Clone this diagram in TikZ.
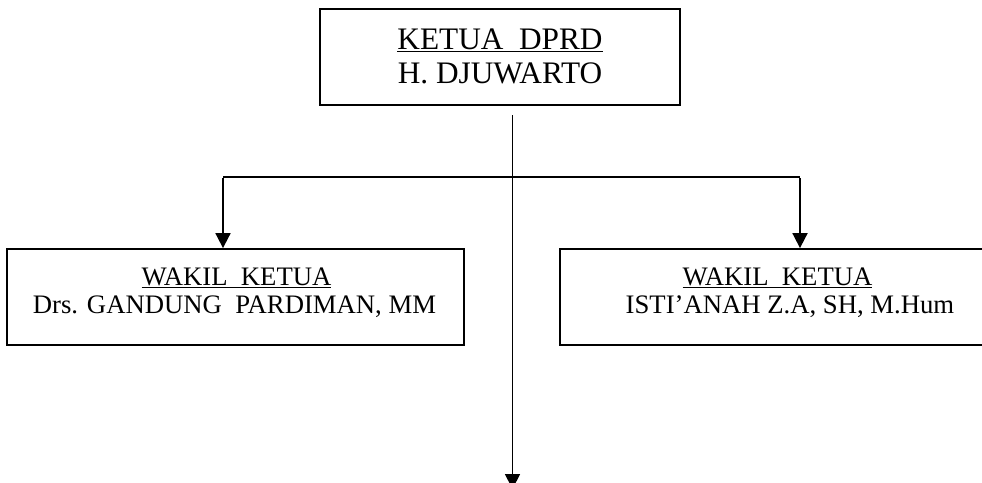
\documentclass[tikz,border=0pt]{standalone}
\usepackage{fontspec}
\setmainfont{Liberation Serif}
\usetikzlibrary{arrows.meta}
\begin{document}
\begin{tikzpicture}[x=1pt,y=-1pt,
  box/.style={draw,line width=1.8pt,rectangle,inner sep=0pt},
  bigtxt/.style={anchor=base,inner sep=0pt,font=\fontsize{31.3}{33}\selectfont},
  smalltxt/.style={anchor=base,inner sep=0pt,font=\fontsize{26.7}{29}\selectfont},
  conn/.style={line width=1.8pt},
  arr/.style={conn,-{Triangle[length=15pt,width=15pt]}}]
\useasboundingbox (0,0) rectangle (982,482);
% boxes
\node[box,minimum width=360pt,minimum height=96pt] (top) at (500,57) {};
\node[box,minimum width=457pt,minimum height=96pt] (lbox) at (235.5,297) {};
\node[box,minimum width=450pt,minimum height=96pt] (rbox) at (785,297) {};
% texts
\node[bigtxt] (t1) at (500,49.5) {\underline{KETUA\ \ DPRD}};
\node[bigtxt] (t2) at (500,83) {H. DJUWARTO};
\node[smalltxt] (l1) at (236.5,285.5) {\underline{WAKIL\ \ KETUA}};
\node[smalltxt] (l2) at (234.5,313) {Drs. GANDUNG\ \ PARDIMAN, MM};
\node[smalltxt] (r1) at (777.5,285.5) {\underline{WAKIL\ \ KETUA}};
\node[smalltxt] (r2) at (790,313) {ISTI’ANAH Z.A, SH, M.Hum};
% connectors
\coordinate (vs) at (512.5,115);
\coordinate (ve) at (512.5,489);
\coordinate (jl) at (223,177);
\coordinate (jr) at (800,177);
\draw[arr] (vs) -- (ve);
\draw[conn] (jl) -- (jr);
\draw[arr] ([yshift=-0.9pt]jl) -- (jl |- lbox.north);
\draw[arr] ([yshift=-0.9pt]jr) -- (jr |- rbox.north);
\end{tikzpicture}
\end{document}
